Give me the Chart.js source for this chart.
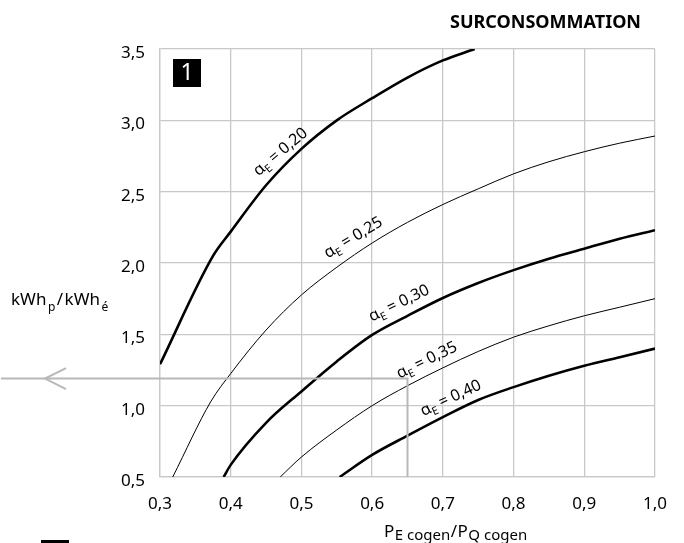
<!DOCTYPE html>
<html>
<head>
<meta charset="utf-8">
<script src="https://cdn.jsdelivr.net/npm/chart.js@4"></script>
<style>
  html, body { margin: 0; padding: 0; background: #fff; }
  canvas { display: block; }
</style>
</head>
<body>
<canvas id="chart" width="684" height="543"></canvas>
<script>
'use strict';

// curves, one pair of arrays per alpha_E value
var alpha20X = [0.3, 0.375, 0.4, 0.45, 0.5, 0.55, 0.6, 0.65, 0.7, 0.745];
var alpha20Y = [1.29, 2.05, 2.22, 2.545, 2.80, 3.0, 3.155, 3.30, 3.42, 3.5];
var alpha25X = [0.318, 0.372, 0.4, 0.45, 0.5, 0.55, 0.6, 0.65, 0.7, 0.75, 0.8, 0.85, 0.9, 0.95, 1.0];
var alpha25Y = [0.5, 1.03, 1.225, 1.53, 1.776, 1.97, 2.14, 2.285, 2.41, 2.52, 2.625, 2.71, 2.78, 2.84, 2.89];
var alpha30X = [0.39, 0.4, 0.45, 0.5, 0.55, 0.6, 0.65, 0.7, 0.75, 0.8, 0.85, 0.9, 0.95, 1.0];
var alpha30Y = [0.5, 0.585, 0.88, 1.10, 1.31, 1.496, 1.63, 1.755, 1.86, 1.95, 2.03, 2.10, 2.17, 2.23];
var alpha35X = [0.47, 0.5, 0.55, 0.6, 0.65, 0.7, 0.75, 0.8, 0.85, 0.9, 0.95, 1.0];
var alpha35Y = [0.5, 0.64, 0.83, 1.0, 1.14, 1.265, 1.38, 1.48, 1.56, 1.63, 1.69, 1.75];
var alpha40X = [0.554, 0.6, 0.65, 0.7, 0.75, 0.8, 0.85, 0.9, 0.95, 1.0];
var alpha40Y = [0.5, 0.655, 0.79, 0.92, 1.04, 1.13, 1.21, 1.28, 1.34, 1.40];

// grey reading guide (x = 0,65 -> 1,19)
var guideX = [0.65, 0.65, 0.075];
var guideY = [0.5, 1.19, 1.19];

var alphaNames = ['0,20', '0,25', '0,30', '0,35', '0,40'];
var xTicks = [0.3, 0.4, 0.5, 0.6, 0.7, 0.8, 0.9, 1.0];
var yTicks = [0.5, 1.0, 1.5, 2.0, 2.5, 3.0, 3.5];

// where the curve labels sit (data coords) and their slant
var labelPos = [
  { x: 0.470, y: 2.78, angle: -40 },
  { x: 0.573, y: 2.18, angle: -31 },
  { x: 0.638, y: 1.72, angle: -26 },
  { x: 0.677, y: 1.32, angle: -26 },
  { x: 0.711, y: 1.055, angle: -25 }
];

function toPoints(xs, ys) {
  var pts = [];
  for (var i = 0; i < xs.length; i++) {
    pts.push({ x: xs[i], y: ys[i] });
  }
  return pts;
}

function fmt(v) {
  return v.toFixed(1).replace('.', ',');
}

var FONT = '"Noto Sans", "DejaVu Sans", sans-serif';

var curves = [
  { xs: alpha20X, ys: alpha20Y, width: 2.6 },
  { xs: alpha25X, ys: alpha25Y, width: 1 },
  { xs: alpha30X, ys: alpha30Y, width: 2.6 },
  { xs: alpha35X, ys: alpha35Y, width: 1 },
  { xs: alpha40X, ys: alpha40Y, width: 2.6 }
];

var datasets = [];
datasets.push({
  label: 'guide',
  data: toPoints(guideX, guideY),
  borderColor: '#b8b8b8',
  borderWidth: 2,
  pointRadius: 0,
  tension: 0,
  clip: false
});
for (var i = 0; i < curves.length; i++) {
  datasets.push({
    label: 'alpha ' + alphaNames[i],
    data: toPoints(curves[i].xs, curves[i].ys),
    borderColor: '#000',
    borderWidth: curves[i].width,
    pointRadius: 0,
    cubicInterpolationMode: 'monotone'
  });
}

// text, box and arrow that are not part of the axes
var decorations = {
  id: 'decorations',
  afterDraw: function(chart) {
    var ctx = chart.ctx;
    var xs = chart.scales.x;
    var ys = chart.scales.y;
    ctx.save();
    ctx.fillStyle = '#000';

    // title
    ctx.font = 'bold 18px ' + FONT;
    ctx.textAlign = 'right';
    ctx.textBaseline = 'alphabetic';
    ctx.fillText('SURCONSOMMATION', 641, 28);

    // panel number
    ctx.fillRect(173, 59, 28, 28);
    ctx.fillStyle = '#fff';
    ctx.font = '23px ' + FONT;
    ctx.textAlign = 'center';
    ctx.textBaseline = 'middle';
    ctx.fillText('1', 187, 73);
    ctx.fillStyle = '#000';

    // y axis title kWh_p/kWh_e
    ctx.textAlign = 'left';
    ctx.textBaseline = 'alphabetic';
    var parts = [
      ['kWh', 17, 0], ['p', 12, 6], ['/', 17, 0], ['kWh', 17, 0], ['é', 12, 6]
    ];
    var px = 11;
    parts.forEach(function(p) {
      ctx.font = p[1] + 'px ' + FONT;
      ctx.fillText(p[0], px, 305 + p[2]);
      px += ctx.measureText(p[0]).width + 1.5;
    });

    // x axis title P_E cogen / P_Q cogen
    parts = [
      ['P', 17, 0], ['E cogen', 15, 3], ['/', 17, 0], ['P', 17, 0], ['Q cogen', 15, 3]
    ];
    px = 384;
    parts.forEach(function(p) {
      ctx.font = p[1] + 'px ' + FONT;
      ctx.fillText(p[0], px, 537 + p[2]);
      px += ctx.measureText(p[0]).width + 0.5;
    });

    // curve labels
    for (var k = 0; k < labelPos.length; k++) {
      var lp = labelPos[k];
      var cx = xs.getPixelForValue(lp.x);
      var cy = ys.getPixelForValue(lp.y);
      var bits = [['α', 16, 0], ['E', 11, 4], [' = ' + alphaNames[k], 16, 0]];
      var total = 0;
      bits.forEach(function(b) {
        ctx.font = b[1] + 'px ' + FONT;
        total += ctx.measureText(b[0]).width;
      });
      ctx.save();
      ctx.translate(cx, cy);
      ctx.rotate(lp.angle * Math.PI / 180);
      ctx.textBaseline = 'alphabetic';
      var tx = -total / 2;
      bits.forEach(function(b) {
        ctx.font = b[1] + 'px ' + FONT;
        ctx.fillText(b[0], tx, 5 + b[2]);
        tx += ctx.measureText(b[0]).width;
      });
      ctx.restore();
    }

    // open arrow head at the end of the guide
    var gy = ys.getPixelForValue(guideY[2]);
    ctx.strokeStyle = '#b8b8b8';
    ctx.lineWidth = 2;
    ctx.beginPath();
    ctx.moveTo(66, gy - 10.5);
    ctx.lineTo(45, gy);
    ctx.lineTo(66, gy + 10.5);
    ctx.stroke();

    // short black rule at the bottom edge
    ctx.fillRect(41, 540, 28, 3);
    ctx.restore();
  }
};

var ctx = document.getElementById('chart').getContext('2d');

var chart = new Chart(ctx, {
  type: 'line',
  data: { datasets: datasets },
  options: {
    responsive: false,
    animation: false,
    layout: { padding: { top: 49, right: 24, bottom: 0, left: 0 } },
    plugins: {
      legend: { display: false },
      tooltip: { enabled: false }
    },
    scales: {
      x: {
        type: 'linear',
        min: 0.3,
        max: 1.0,
        afterBuildTicks: function(scale) {
          scale.ticks = xTicks.map(function(v) { return { value: v }; });
        },
        afterFit: function(scale) { scale.height = 66; },
        grid: { color: '#c8c8c8', lineWidth: 1.3, drawTicks: false },
        border: { color: '#c8c8c8', width: 1.3 },
        ticks: {
          padding: 17,
          color: '#000',
          font: { family: FONT, size: 17 },
          maxRotation: 0,
          callback: function(v) { return fmt(v); }
        }
      },
      y: {
        type: 'linear',
        min: 0.5,
        max: 3.5,
        afterBuildTicks: function(scale) {
          scale.ticks = yTicks.map(function(v) { return { value: v }; });
        },
        afterFit: function(scale) { scale.width = 160; },
        grid: { color: '#c8c8c8', lineWidth: 1.3, drawTicks: false },
        border: { color: '#c8c8c8', width: 1.3 },
        ticks: {
          padding: 15,
          labelOffset: 4,
          color: '#000',
          font: { family: FONT, size: 17 },
          callback: function(v) { return fmt(v); }
        }
      }
    }
  },
  plugins: [decorations]
});
</script>
</body>
</html>
